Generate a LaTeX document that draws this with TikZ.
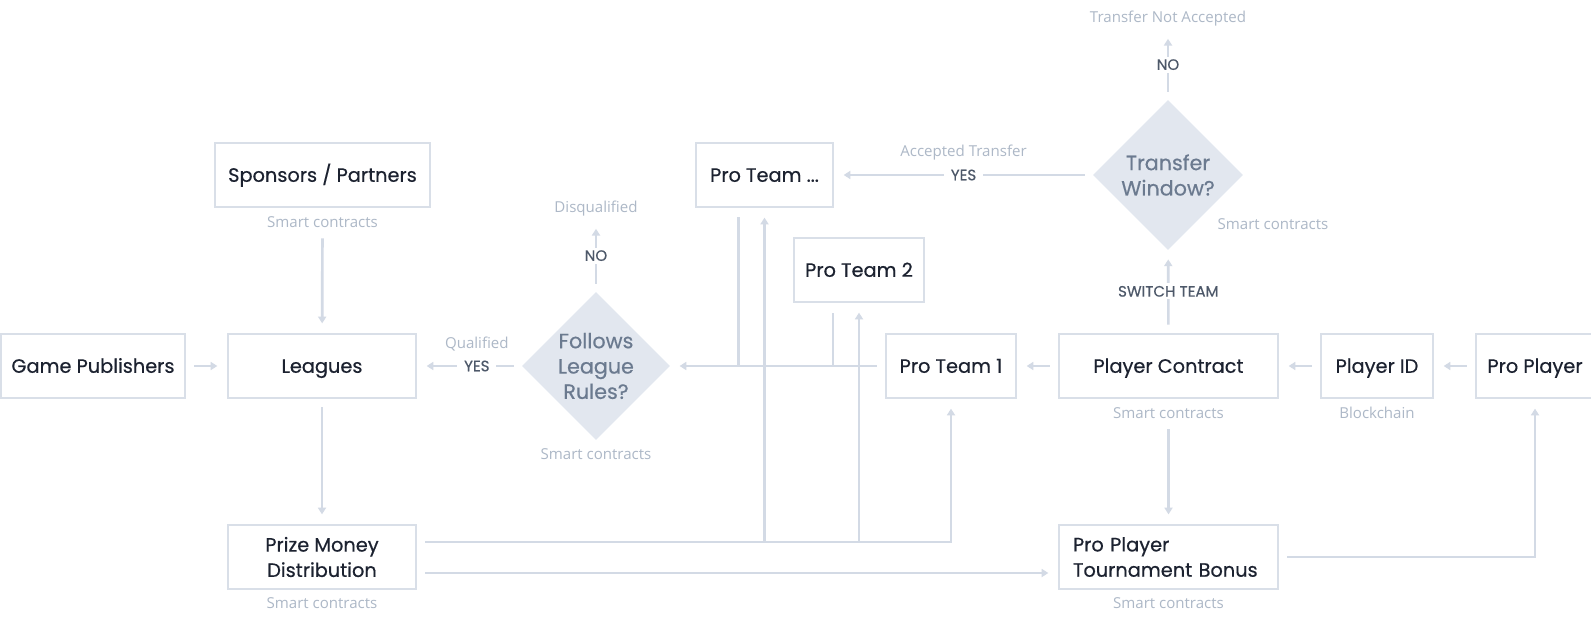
\documentclass[tikz,border=0pt]{standalone}
\usepackage{fontspec}
\setmainfont{Poppins}
\newfontfamily\boxfont[FakeBold=0.5]{Poppins}
\newfontfamily\capfont{Open Sans}
\usetikzlibrary{arrows.meta,shapes.geometric}
\definecolor{bordc}{HTML}{D9DFE8}
\definecolor{linec}{HTML}{D3DAE5}
\definecolor{diaf}{HTML}{E2E7EF}
\definecolor{diat}{HTML}{6B7A8F}
\definecolor{capc}{HTML}{ADB8C7}
\definecolor{lblc}{HTML}{4D5869}
\definecolor{txtc}{HTML}{1C2230}
\begin{document}
\begin{tikzpicture}[x=0.75pt,y=-0.75pt,
  box/.style={draw=bordc, line width=2pt, fill=white, minimum height=48pt, inner sep=0pt,
    text=txtc, font=\boxfont\fontsize{14.5}{19}\selectfont, align=center},
  one/.style={text height=12.4pt, text depth=2.2pt},
  bw/.style={minimum width=#1*0.75pt},
  capt/.style={text=capc, font=\capfont\fontsize{11.3}{13}\selectfont, inner sep=2pt},
  lbl/.style={fill=white, text=lblc, font=\boxfont\fontsize{11.3}{12}\selectfont, inner xsep=5pt, inner ysep=2pt},
  dia/.style={diamond, fill=diaf, minimum width=#1, minimum height=#1, inner sep=0pt},
  diatext/.style={text=diat, font=\boxfont\fontsize{15.5}{19}\selectfont, align=center},
  cline/.style={draw=linec, line width=2pt},
  arr/.style={cline, -{Triangle[width=6pt,length=5pt]}, shorten >=7pt},
  gap/.style={shorten <=6pt}
]
\fill[white] (0,0) rectangle (1591,623);
\useasboundingbox (0,0) rectangle (1591,623);

% nodes
\node[box,one,bw=184] (gp) at (93,366) {Game Publishers};
\node[box,one,bw=188] (lg) at (322,366) {Leagues};
\node[box,one,bw=215] (sp) at (322.5,175) {Sponsors / Partners};
\node[capt] (spcap) at (322.5,222) {Smart contracts};
\node[dia=111pt] (flr) at (596,366) {};
\node[diatext] (flrt) at (flr.center) {Follows\\League\\Rules?};
\node[capt] (flrcap) at (596,454) {Smart contracts};
\node[capt] (dq) at (596,209) {Disqualified};
\node[box,one,bw=137] (ptd) at (764.5,175) {Pro Team ...};
\node[box,one,bw=130] (pt2) at (859,270) {Pro Team 2};
\node[box,one,bw=130] (pt1) at (951,366) {Pro Team 1};
\node[box,one,bw=219] (pc) at (1168.5,366) {Player Contract};
\node[capt] (pccap) at (1168.5,413) {Smart contracts};
\node[box,one,bw=112] (pid) at (1377,366) {Player ID};
\node[capt] (pidcap) at (1377,413) {Blockchain};
\node[box,one,bw=118] (pp) at (1535,366) {Pro Player};
\node[dia=112.5pt] (tw) at (1168,175) {};
\node[diatext] (twt) at (tw.center) {Transfer\\Window?};
\node[capt] (twcap) at (1273,224) {Smart contracts};
\node[capt] (tna) at (1168,19) {Transfer Not Accepted};
\node[box,bw=188] (prize) at (322,557) {Prize Money\\Distribution};
\node[capt] (prcap) at (322,603) {Smart contracts};
\node[box, minimum width=164.25pt, text width=143.25pt, align=left, inner xsep=10.5pt] (bonus) at (1168.5,557) {Pro Player\\Tournament Bonus};
\node[capt] (bcap) at (1168.5,603) {Smart contracts};

% connectors
\draw[arr,gap] (gp) -- (lg);
\draw[arr,gap] (spcap) -- (lg);
\draw[arr,gap] (lg) -- (prize);
\draw[arr,gap] (flr) -- (lg) node[lbl,pos=0.43,label={[capt,label distance=1pt]above:Qualified}] (yes1) {YES};
\draw[arr,gap] (flr) -- (dq) node[lbl,midway] (no1) {NO};
\draw[arr,gap] (tw) -- (tna) node[lbl,midway] (no2) {NO};
\draw[arr,gap] (pc) -- (tw) node[lbl,midway] (sw) {SWITCH TEAM};
\draw[arr,gap] (tw) -- (ptd) node[lbl,midway,label={[capt,label distance=1pt]above:Accepted Transfer}] (yes2) {YES};
\draw[arr,gap] (pc) -- (pt1);
\draw[arr,gap] (pid) -- (pc);
\draw[arr,gap] (pp) -- (pid);
\draw[arr,gap] (pt1) -- (flr);
\draw[cline] ([xshift=-19.5pt,yshift=-6.75pt]ptd.south) -- ++(0,150);
\draw[cline] ([xshift=-19.5pt,yshift=-7.5pt]pt2.south) -- ++(0,54);
\coordinate (pbus) at ([yshift=11.25pt]prize.east);
\draw[arr,gap] (pbus) -| (pt1);
\draw[arr] (ptd |- pbus) -- (ptd);
\draw[arr] (pt2 |- pbus) -- (pt2);
\draw[arr,gap] ([yshift=-12pt]prize.east) -- ([yshift=-12pt]bonus.west);
\draw[arr,gap] (bonus) -| (pp);
\draw[arr,gap] (pccap) -- (bonus);
\end{tikzpicture}
\end{document}
